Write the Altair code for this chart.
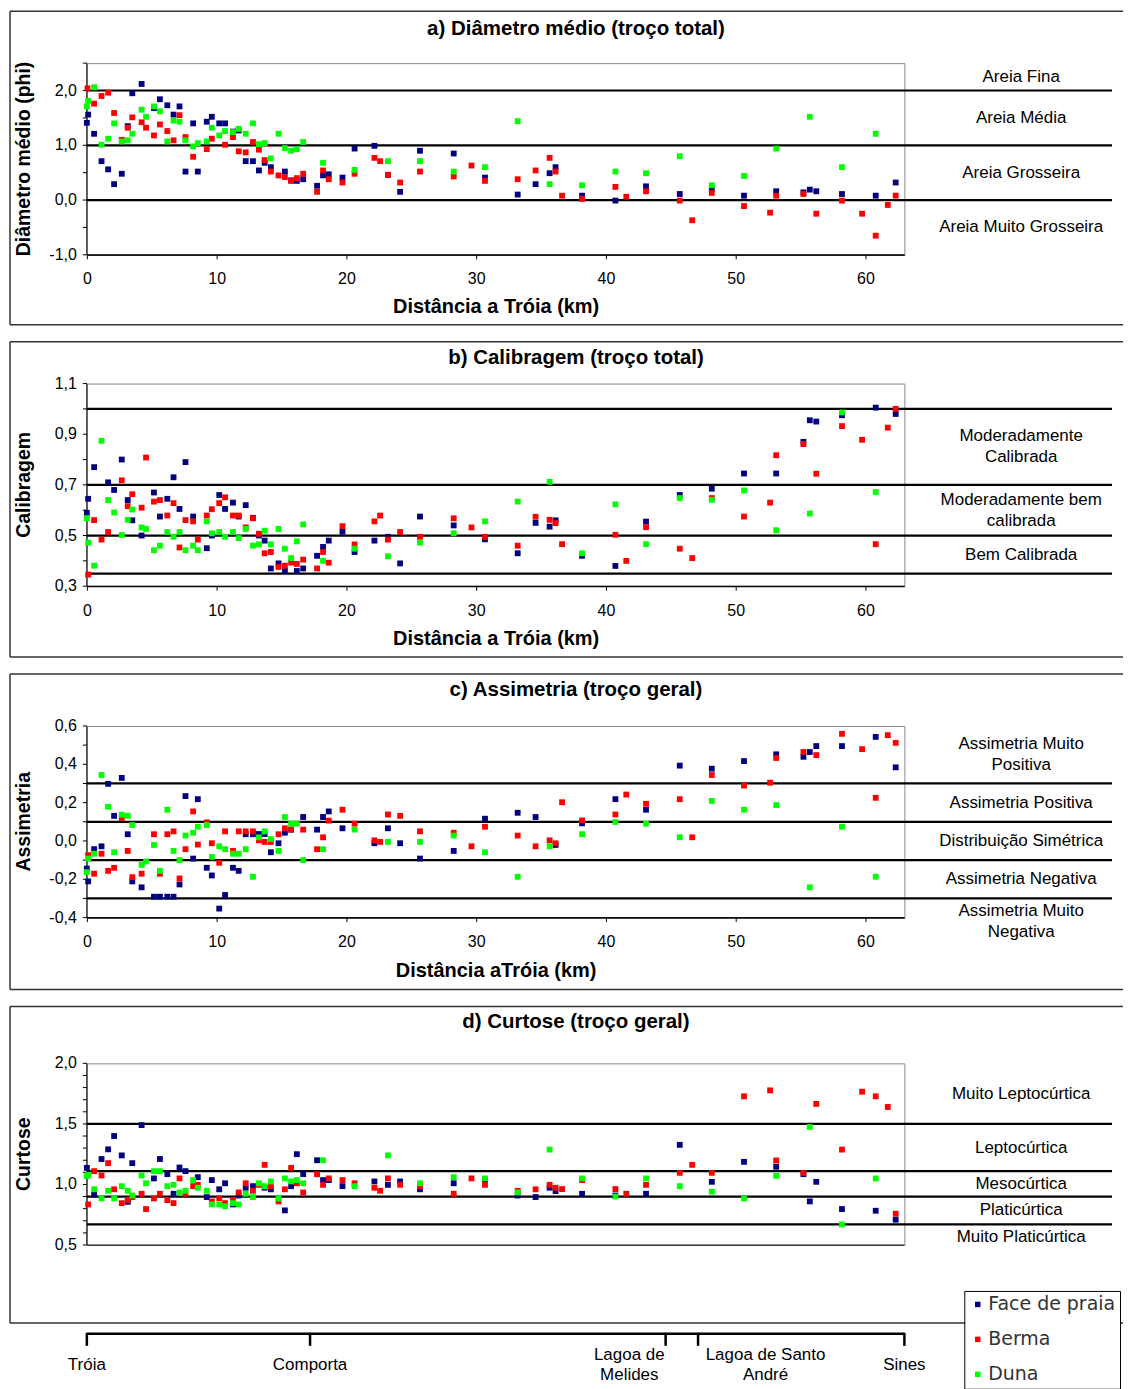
import altair as alt
import pandas as pd

SERIES = ["Face de praia", "Berma", "Duna"]
COLORS = ["#000080", "#ff0000", "#00ff00"]
FONT = "Liberation Sans"

duna_km = [0, 0.1, 0.56, 1.13, 1.64, 2.1, 2.69, 3.15, 3.5, 4.22, 4.56, 5.17, 5.63, 6.2, 6.68,
           7.14, 7.6, 8.19, 8.55, 9.24, 9.63, 10.2, 10.65, 11.26, 11.7, 12.24, 12.8, 13.26, 13.7,
           14.18, 14.77, 15.26, 15.74, 16.18, 16.67, 18.2, 20.63, 23.2, 25.67, 28.27, 30.68, 33.2,
           35.66, 38.16, 40.73, 43.09, 45.69, 48.16, 50.64, 53.12, 55.71, 58.19, 60.79]

a_face_km = [0, 0.1, 0.56, 1.13, 1.64, 2.1, 2.69, 3.15, 3.5, 4.22, 5.17, 5.63, 6.2, 6.68, 7.14,
             7.6, 8.19, 8.55, 9.24, 9.63, 10.2, 10.65, 11.26, 11.7, 12.24, 12.8, 13.26, 13.7, 14.18,
             15.26, 15.74, 16.18, 16.67, 17.74, 18.2, 18.64, 19.7, 20.63, 22.16, 23.2, 24.14, 25.67,
             28.27, 30.68, 33.2, 34.58, 35.66, 36.12, 38.16, 40.73, 43.09, 45.69, 48.16, 50.64,
             53.12, 55.22, 55.71, 56.21, 58.19, 60.79, 62.33]
a_face = [1.41, 1.56, 1.21, 0.71, 0.56, 0.29, 0.48, 1.35, 1.95, 2.12, 1.68, 1.84, 1.73, 1.56, 1.71,
          0.52, 1.40, 0.52, 1.43, 1.52, 1.40, 1.40, 1.25, 1.27, 0.71, 0.71, 0.54, 0.68, 0.60,
          0.52, 0.36, 0.35, 0.38, 0.26, 0.45, 0.47, 0.41, 0.94, 0.99, 0.46, 0.15, 0.90,
          0.85, 0.41, 0.10, 0.29, 0.49, 0.60, 0.08, -0.01, 0.25, 0.11, 0.21, 0.08,
          0.16, 0.14, 0.19, 0.16, 0.11, 0.08, 0.32]
a_berma_km = [0.05, 0.56, 1.13, 1.64, 2.1, 2.69, 3.15, 3.5, 4.22, 4.56, 5.17, 5.63, 6.2, 6.68, 7.14,
              7.6, 8.19, 9.24, 9.63, 10.65, 11.26, 11.7, 12.24, 12.8, 13.26, 13.7, 14.18, 14.77,
              15.26, 15.74, 16.18, 16.67, 17.74, 18.2, 18.64, 19.7, 20.63, 22.16, 22.6, 23.2, 24.14,
              25.67, 28.27, 29.64, 30.68, 33.2, 34.58, 35.66, 36.12, 36.62, 38.16, 40.73, 41.57,
              43.09, 45.69, 46.65, 48.16, 50.64, 52.65, 53.12, 55.22, 56.21, 58.19, 59.74, 60.79,
              61.72, 62.33]
a_berma = [2.04, 1.76, 1.90, 1.96, 1.59, 1.10, 1.32, 1.51, 1.42, 1.32, 1.18, 1.38, 1.26, 1.09, 1.55,
           1.15, 0.79, 0.93, 1.12, 1.01, 1.15, 0.89, 0.87, 1.06, 0.92, 0.73, 0.52, 0.45,
           0.42, 0.35, 0.40, 0.48, 0.15, 0.54, 0.38, 0.32, 0.48, 0.77, 0.71, 0.46, 0.32,
           0.52, 0.43, 0.63, 0.35, 0.38, 0.54, 0.77, 0.52, 0.08, 0.02, 0.24, 0.06,
           0.16, -0.01, -0.37, 0.13, -0.11, -0.23, 0.08, 0.11, -0.25, -0.01, -0.25, -0.65,
           -0.09, 0.08]
a_duna = [1.71, 1.81, 2.06, 1.01, 1.12, 1.40, 1.07, 1.09, 1.21, 1.65, 1.52, 1.71, 1.62, 1.07, 1.45,
          1.43, 1.09, 0.98, 1.04, 1.07, 1.32, 1.18, 1.26, 1.24, 1.30, 1.21, 1.40, 1.02, 1.04,
          0.76, 1.21, 0.95, 0.90, 0.93, 1.06, 0.68, 0.55, 0.71, 0.71, 0.52, 0.60, 1.44,
          0.29, 0.27, 0.52, 0.49, 0.80, 0.27, 0.44, 0.94, 1.52, 0.60, 1.21]

b_face_km = [0, 0.1, 0.56, 1.64, 2.1, 2.69, 3.15, 3.5, 4.22, 5.17, 5.63, 6.2, 6.68, 7.14, 7.6,
             8.19, 9.24, 9.63, 10.2, 10.65, 11.26, 11.7, 12.24, 12.8, 13.26, 13.7, 14.18, 14.77,
             15.26, 16.18, 16.67, 17.74, 18.2, 18.64, 19.7, 20.63, 22.16, 23.2, 24.14, 25.67,
             28.27, 30.68, 33.2, 34.58, 35.66, 36.12, 38.16, 40.73, 43.09, 45.69, 48.16, 50.64,
             53.12, 55.22, 55.71, 56.21, 58.19, 60.79, 62.33]
b_face = [0.59, 0.645, 0.77, 0.71, 0.68, 0.80, 0.64, 0.56, 0.50, 0.67, 0.575, 0.645, 0.73, 0.605, 0.79,
          0.575, 0.45, 0.50, 0.66, 0.605, 0.63, 0.575, 0.62, 0.57, 0.50, 0.48, 0.37, 0.39,
          0.36, 0.36, 0.37, 0.42, 0.455, 0.48, 0.515, 0.435, 0.48, 0.495, 0.39, 0.575,
          0.54, 0.485, 0.43, 0.55, 0.535, 0.56, 0.42, 0.38, 0.555, 0.66, 0.685, 0.745,
          0.745, 0.87, 0.955, 0.95, 0.975, 1.005, 0.98]
b_berma_km = [0.1, 0.56, 1.13, 1.64, 2.69, 3.15, 3.5, 4.22, 4.56, 5.17, 5.63, 6.2, 6.68, 7.14, 7.6,
              8.19, 8.55, 9.24, 9.63, 10.2, 10.65, 11.26, 11.7, 12.24, 12.8, 13.26, 13.7, 14.18,
              14.77, 15.26, 15.74, 16.18, 16.67, 17.74, 18.2, 18.64, 19.7, 20.63, 22.16, 22.6,
              23.2, 24.14, 25.67, 28.27, 29.64, 30.68, 33.2, 34.58, 35.66, 36.12, 36.62, 40.73,
              41.57, 43.09, 45.69, 46.65, 48.16, 50.64, 52.65, 53.12, 55.22, 56.21, 58.19, 59.74,
              60.79, 61.72, 62.33]
b_berma = [0.346, 0.561, 0.484, 0.514, 0.718, 0.616, 0.663, 0.610, 0.808, 0.634, 0.640, 0.579, 0.628,
           0.453, 0.561, 0.556, 0.484, 0.579, 0.604, 0.628, 0.651, 0.579, 0.579, 0.532, 0.568,
           0.507, 0.430, 0.435, 0.376, 0.381, 0.393, 0.388, 0.405, 0.370, 0.435, 0.393, 0.537,
           0.465, 0.556, 0.579, 0.484, 0.514, 0.495, 0.568, 0.532, 0.495, 0.460, 0.574, 0.562,
           0.549, 0.466, 0.503, 0.400, 0.533, 0.448, 0.411, 0.648, 0.575, 0.630, 0.817, 0.861,
           0.744, 0.932, 0.878, 0.466, 0.926, 1.0]
b_duna = [0.568, 0.472, 0.381, 0.874, 0.640, 0.591, 0.502, 0.562, 0.603, 0.532, 0.526, 0.442, 0.460,
          0.514, 0.495, 0.514, 0.442, 0.460, 0.442, 0.556, 0.509, 0.514, 0.495, 0.514, 0.490,
          0.526, 0.460, 0.465, 0.519, 0.465, 0.526, 0.448, 0.411, 0.477, 0.544, 0.400, 0.448,
          0.418, 0.472, 0.509, 0.556, 0.634, 0.712, 0.430, 0.623, 0.466, 0.648, 0.641, 0.678,
          0.521, 0.587, 0.986, 0.672]

c_face_km = [0, 0.1, 0.56, 1.13, 1.64, 2.1, 2.69, 3.15, 3.5, 4.22, 5.17, 5.63, 6.2, 6.68, 7.14,
             7.6, 8.19, 8.55, 9.24, 9.63, 10.2, 10.65, 11.26, 11.7, 12.24, 12.8, 13.26, 13.7,
             14.18, 14.77, 15.26, 15.74, 16.67, 17.74, 18.2, 18.64, 19.7, 22.16, 23.2, 24.14,
             25.67, 28.27, 30.68, 33.2, 34.58, 36.12, 38.16, 40.73, 43.09, 45.69, 48.16, 50.64,
             53.12, 55.22, 55.71, 56.21, 58.19, 60.79, 62.33]
c_face = [-0.144, -0.211, -0.043, -0.028, 0.298, 0.131, 0.329, 0.035, -0.211, -0.242, -0.291, -0.291,
          -0.291, -0.291, -0.227, 0.234, -0.092, 0.218, -0.140, -0.180, -0.353, -0.282, -0.140,
          -0.156, 0.035, 0.035, 0.036, 0.036, -0.059, -0.012, 0.043, 0.059, 0.125, 0.059, 0.125,
          0.154, 0.066, -0.012, 0.066, -0.012, -0.092, -0.052, 0.116, 0.147, 0.125, -0.021,
          0.092, 0.218, 0.163, 0.393, 0.377, 0.417, 0.452, 0.439, 0.464, 0.495, 0.495, 0.543,
          0.384]
c_berma_km = [0.1, 0.56, 1.13, 1.64, 2.1, 2.69, 3.15, 3.5, 4.22, 5.17, 5.63, 6.2, 6.68, 7.14, 7.6,
              8.19, 8.55, 9.24, 9.63, 10.2, 10.65, 11.26, 11.7, 12.24, 12.8, 13.26, 13.7, 14.18,
              14.77, 15.26, 15.74, 16.67, 17.74, 18.2, 18.64, 19.7, 20.63, 22.16, 22.6, 23.2,
              24.14, 25.67, 28.27, 29.64, 30.68, 33.2, 34.58, 35.66, 36.12, 36.62, 38.16, 40.73,
              41.57, 43.09, 45.69, 46.65, 48.16, 50.64, 52.65, 53.12, 55.22, 56.21, 58.19, 59.74,
              60.79, 61.72, 62.33]
c_berma = [-0.074, -0.171, -0.067, -0.156, -0.140, 0.12, -0.052, -0.189, -0.171, 0.035, -0.171, 0.035,
           0.050, -0.196, -0.043, 0.154, -0.019, 0.097, -0.012, -0.114, 0.050, -0.052, 0.050,
           0.050, 0.050, 0.003, -0.005, -0.005, 0.035, 0.066, 0.059, 0.059, -0.043, 0.019, 0.106,
           0.163, 0.090, 0.003, -0.005, 0.138, 0.131, 0.050, 0.043, -0.028, 0.074, 0.028, -0.028,
           0.003, -0.012, 0.202, 0.107, 0.138, 0.242, 0.194, 0.218, 0.019, 0.344, 0.289, 0.304,
           0.433, 0.464, 0.448, 0.559, 0.479, 0.225, 0.552, 0.512]
c_duna = [-0.163, -0.092, -0.067, 0.344, 0.178, -0.059, 0.137, 0.131, 0.083, -0.125, -0.107, -0.021,
          -0.156, 0.163, -0.052, -0.100, 0.028, 0.043, 0.074, 0.083, -0.083, -0.028, -0.043,
          -0.067, -0.067, -0.043, -0.187, 0.019, 0.050, 0.010, -0.052, 0.125, 0.090, 0.090,
          -0.100, -0.043, 0.059, -0.005, -0.005, 0.028, -0.059, -0.187, -0.028, 0.035, 0.099,
          0.090, 0.019, 0.209, 0.163, 0.187, -0.242, 0.074, -0.187]

d_face_km = [0, 0.56, 1.13, 1.64, 2.1, 2.69, 3.15, 3.5, 4.22, 5.17, 5.63, 6.2, 6.68, 7.14, 7.6,
             8.55, 9.24, 9.63, 10.2, 10.65, 11.26, 11.7, 12.24, 12.8, 13.7, 14.18, 15.26, 15.74,
             16.18, 16.67, 17.74, 18.2, 18.64, 19.7, 22.16, 23.2, 24.14, 25.67, 28.27, 30.68,
             33.2, 34.58, 35.66, 36.12, 38.16, 40.73, 43.09, 45.69, 48.16, 50.64, 53.12, 55.22,
             55.71, 56.21, 58.19, 60.79, 62.33]
d_face = [1.137, 0.918, 1.21, 1.29, 1.40, 1.24, 0.857, 1.176, 1.49, 1.05, 1.21, 1.085, 0.923, 1.14,
          1.11, 1.06, 0.896, 1.036, 0.96, 1.01, 0.835, 0.909, 0.973, 0.986, 0.973, 0.96, 0.786,
          0.986, 1.25, 1.085, 1.20, 1.036, 1.036, 0.986, 1.025, 0.997, 1.025, 0.96, 1.01, 1.036,
          0.909, 0.896, 0.973, 0.945, 0.923, 0.909, 0.923, 1.327, 1.022, 1.187, 1.146, 1.085,
          0.86, 1.022, 0.797, 0.783, 0.709]
d_berma_km = [0.1, 0.56, 1.13, 1.64, 2.1, 2.69, 3.15, 3.5, 4.22, 4.56, 5.17, 5.63, 6.2, 6.68, 7.14,
              7.6, 8.19, 8.55, 9.63, 10.2, 10.65, 11.26, 11.7, 12.24, 12.8, 13.26, 13.7, 14.18,
              14.77, 15.26, 15.74, 16.18, 16.67, 17.74, 18.2, 18.64, 19.7, 20.63, 22.16, 22.6,
              23.2, 24.14, 25.67, 28.27, 29.64, 30.68, 33.2, 34.58, 35.66, 36.12, 36.62, 38.16,
              40.73, 41.57, 43.09, 45.69, 46.65, 48.16, 50.64, 52.65, 53.12, 55.22, 56.21, 58.19,
              59.74, 60.79, 61.72, 62.33]
d_berma = [0.835, 1.11, 1.074, 1.176, 0.96, 0.846, 0.871, 0.896, 0.923, 0.797, 0.885, 0.923, 0.871,
           0.846, 1.05, 0.923, 0.986, 0.997, 0.86, 0.885, 0.846, 0.871, 0.934, 1.01, 0.948, 0.997,
           1.162, 0.986, 0.86, 0.96, 1.137, 1.01, 0.934, 1.085, 0.997, 1.05, 1.036, 1.01, 0.973,
           0.948, 1.05, 0.997, 0.986, 0.923, 1.05, 0.997, 0.948, 0.96, 0.997, 0.973, 0.962, 1.036,
           0.962, 0.923, 0.997, 1.096, 1.162, 1.096, 1.728, 1.777, 1.198, 1.096, 1.665, 1.288,
           1.766, 1.728, 1.64, 0.758]
d_duna = [1.069, 1.08, 0.96, 0.885, 0.948, 0.885, 0.986, 0.948, 0.909, 1.074, 1.01, 1.11, 1.11,
          0.986, 0.997, 0.934, 0.948, 1.036, 0.973, 0.948, 0.835, 0.835, 0.82, 0.846, 0.835,
          0.923, 0.896, 1.01, 0.986, 1.025, 0.885, 1.05, 1.025, 1.036, 1.01, 1.20, 0.986, 1.24,
          1.01, 1.06, 1.05, 0.934, 1.288, 1.05, 0.90, 1.05, 0.986, 0.94, 0.885, 1.071, 1.475,
          0.67, 1.05]

# class limits, class names and where each name sits
a_limits = [2.0, 1.0, 0.0]
a_classes = ["Areia Fina", "Areia Média", "Areia Grosseira", "Areia Muito Grosseira"]
a_class_at = [2.25, 1.5, 0.5, -0.5]
b_limits = [1.0, 0.7, 0.5, 0.35]
b_classes = ["Moderadamente\nCalibrada", "Moderadamente bem\ncalibrada", "Bem Calibrada"]
b_class_at = [0.85, 0.6, 0.425]
c_limits = [0.3, 0.1, -0.1, -0.3]
c_classes = ["Assimetria Muito\nPositiva", "Assimetria Positiva", "Distribuição Simétrica",
             "Assimetria Negativa", "Assimetria Muito\nNegativa"]
c_class_at = [0.45, 0.2, 0.0, -0.2, -0.42]
d_limits = [1.5, 1.11, 0.9, 0.67]
d_classes = ["Muito Leptocúrtica", "Leptocúrtica", "Mesocúrtica", "Platicúrtica", "Muito Platicúrtica"]
d_class_at = [1.75, 1.305, 1.005, 0.785, 0.57]

# y ticks and labelled y ticks
a_yticks = [-1.0, -0.5, 0.0, 0.5, 1.0, 1.5, 2.0, 2.5]
a_ylabels = [-1.0, 0.0, 1.0, 2.0]
b_yticks = [0.3, 0.4, 0.5, 0.6, 0.7, 0.8, 0.9, 1.0, 1.1]
b_ylabels = [0.3, 0.5, 0.7, 0.9, 1.1]
c_yticks = [-0.4, -0.3, -0.2, -0.1, 0.0, 0.1, 0.2, 0.3, 0.4, 0.5, 0.6]
c_ylabels = [-0.4, -0.2, 0.0, 0.2, 0.4, 0.6]
d_yticks = [0.5, 0.6, 0.7, 0.8, 0.9, 1.0, 1.1, 1.2, 1.3, 1.4, 1.5, 1.6, 1.7, 1.8, 1.9, 2.0]
d_ylabels = [0.5, 1.0, 1.5, 2.0]
x_ticks = [0, 10, 20, 30, 40, 50, 60]

# locations along the coast
loc_tick_km = [0, 17.2, 44.6, 47.1, 63]
loc_names = ["Tróia", "Comporta", "Lagoa de\nMelides", "Lagoa de Santo\nAndré", "Sines"]
loc_label_km = [0, 17.2, 41.8, 52.3, 63]

XSC = alt.Scale(domain=[0, 63], nice=False, zero=False)
CSC = alt.Scale(domain=SERIES, range=COLORS)
LINE_H = 21
FRAME_R = 1038

LEGEND = alt.Legend(orient="none", legendX=879, legendY=228, title=None, symbolType="square",
                    symbolSize=30, symbolStrokeWidth=0, labelFont="DejaVu Sans", labelFontSize=19,
                    labelColor="#333333", rowPadding=15, padding=4, labelOffset=1,
                    strokeColor="black", fillColor="white")


def comma(v):
    return f"{v:.1f}".replace(".", ",")


def text_layers(at_list, labels, scale_enc, x_enc, size):
    """Single-line names centred on their value; two-line names centred as a block."""
    out = []
    for multi in (False, True):
        sel = [(a, t) for a, t in zip(at_list, labels) if ("\n" in t) == multi]
        if not sel:
            continue
        dfx = pd.DataFrame({"at": [s[0] for s in sel], "label": [s[1] for s in sel]})
        out.append(alt.Chart(dfx).mark_text(
            font=FONT, fontSize=size, align="center", baseline="middle", lineBreak="\n",
            lineHeight=LINE_H, dy=(-LINE_H / 2 if multi else 0), color="black").encode(
            y=scale_enc, x=x_enc, text="label:N"))
    return out


def panel(face_km, face, berma_km, berma, duna, title, ytitle, xtitle, ydom, yticks, ylabels,
          height, limits, classes, class_at, frame_top, frame_bottom, title_y, xtitle_y,
          legend=False, extra=()):
    rows = ([(k, v, SERIES[0]) for k, v in zip(face_km, face)]
            + [(k, v, SERIES[1]) for k, v in zip(berma_km, berma)]
            + [(k, v, SERIES[2]) for k, v in zip(duna_km, duna)])
    df = pd.DataFrame(rows, columns=["km", "val", "serie"])
    ysc = alt.Scale(domain=ydom, nice=False, zero=False)
    xaxis = alt.Axis(values=x_ticks, title=xtitle, labelFlush=False, tickSize=4, labelPadding=12,
                     labelFontSize=16, titleFontSize=20, titleFontWeight="bold", titleY=xtitle_y,
                     titleBaseline="middle", grid=False, labelOverlap=False)
    color = alt.Color("serie:N", scale=CSC, legend=LEGEND if legend else None)
    pts = alt.Chart(df).mark_square(size=34, opacity=1, filled=True).encode(
        x=alt.X("km:Q", scale=XSC, axis=xaxis),
        y=alt.Y("val:Q", scale=ysc, axis=None),
        color=color,
    )
    lines = alt.Chart(pd.DataFrame({"lim": limits})).mark_rule(color="black", strokeWidth=2.2).encode(
        y=alt.Y("lim:Q", scale=ysc, axis=None), x=alt.value(0), x2=alt.value(1027))
    texts = text_layers(class_at, classes, alt.Y("at:Q", scale=ysc, axis=None), alt.value(936), 17)
    # y axis drawn from the panel's own y scale
    ytick = alt.Chart(pd.DataFrame({"t": yticks})).mark_rule(color="black", strokeWidth=1).encode(
        y=alt.Y("t:Q", scale=ysc, axis=None), x=alt.value(-4), x2=alt.value(0))
    ylab = alt.Chart(pd.DataFrame({"t": ylabels, "s": [comma(v) for v in ylabels]})).mark_text(
        font=FONT, fontSize=16, align="right", baseline="middle", color="black").encode(
        y=alt.Y("t:Q", scale=ysc, axis=None), x=alt.value(-10), text="s:N")
    one = alt.Chart(pd.DataFrame({"k": [0]}))
    ydomain = one.mark_rule(color="black", strokeWidth=1).encode(
        x=alt.value(0), y=alt.value(0), y2=alt.value(height))
    xdomain = one.mark_rule(color="black", strokeWidth=1).encode(
        x=alt.value(0), x2=alt.value(819), y=alt.value(height))
    ytitle_m = alt.Chart(pd.DataFrame({"t": [ytitle]})).mark_text(
        font=FONT, fontSize=19.5, fontWeight="bold", angle=270, align="center", baseline="middle",
        color="black").encode(text="t:N", x=alt.value(-63), y=alt.value(height / 2))
    fstyle = dict(color="#333333", strokeWidth=1.5)
    ftop = one.mark_rule(**fstyle).encode(x=alt.value(-77), x2=alt.value(FRAME_R), y=alt.value(frame_top))
    fbot = one.mark_rule(**fstyle).encode(x=alt.value(-77), x2=alt.value(FRAME_R), y=alt.value(frame_bottom))
    fleft = one.mark_rule(**fstyle).encode(x=alt.value(-77), y=alt.value(frame_top), y2=alt.value(frame_bottom))
    ttl = alt.Chart(pd.DataFrame({"t": [title]})).mark_text(
        font=FONT, fontSize=20.5, fontWeight="bold", align="center", baseline="middle",
        color="black").encode(text="t:N", x=alt.value(490), y=alt.value(title_y))
    return alt.layer(ftop, fbot, fleft, lines, *texts, ttl, ydomain, xdomain, ytick, ylab,
                     ytitle_m, pts, *extra).properties(width=819, height=height)


pa = panel(a_face_km, a_face, a_berma_km, a_berma, a_duna,
           "a) Diâmetro médio (troço total)", "Diâmetro médio (phi)", "Distância a Tróia (km)",
           [-1.0, 2.5], a_yticks, a_ylabels,
           192, a_limits, a_classes, a_class_at, -52, 262, -34, 52)

pb = panel(b_face_km, b_face, b_berma_km, b_berma, b_duna,
           "b) Calibragem (troço total)", "Calibragem", "Distância a Tróia (km)",
           [0.3, 1.1], b_yticks, b_ylabels,
           203, b_limits, b_classes, b_class_at, -42, 274, -26, 52)

pc = panel(c_face_km, c_face, c_berma_km, c_berma, c_duna,
           "c) Assimetria (troço geral)", "Assimetria", "Distância aTróia (km)",
           [-0.4, 0.6], c_yticks, c_ylabels,
           192, c_limits, c_classes, c_class_at, -52, 264, -36, 53)

loc_bar = alt.Chart(pd.DataFrame({"a": [min(loc_tick_km)], "b": [max(loc_tick_km)]})).mark_rule(
    color="black", strokeWidth=2.5).encode(
    x=alt.X("a:Q", scale=XSC, axis=None), x2="b:Q", y=alt.value(271))
loc_ticks = alt.Chart(pd.DataFrame({"km": loc_tick_km})).mark_rule(
    color="black", strokeWidth=2.5).encode(
    x=alt.X("km:Q", scale=XSC, axis=None), y=alt.value(270), y2=alt.value(283))
loc_text = []
for multi in (False, True):
    sel = [(k, n) for k, n in zip(loc_label_km, loc_names) if ("\n" in n) == multi]
    loc_text.append(alt.Chart(pd.DataFrame({"km": [s[0] for s in sel], "name": [s[1] for s in sel]}))
                    .mark_text(font=FONT, fontSize=17, align="center", baseline="middle",
                               lineBreak="\n", lineHeight=20, dy=(-10 if multi else 0),
                               color="black")
                    .encode(x=alt.X("km:Q", scale=XSC, axis=None), y=alt.value(302), text="name:N"))

pd_ = panel(d_face_km, d_face, d_berma_km, d_berma, d_duna,
            "d) Curtose (troço geral)", "Curtose", "Distância a Tróia (km)",
            [0.5, 2.0], d_yticks, d_ylabels,
            182, d_limits, d_classes, d_class_at, -57, 260, -41, 59,
            legend=True, extra=(loc_bar, loc_ticks, *loc_text))

chart = alt.vconcat(pa, pb, pc, pd_, spacing=13).resolve_scale(color="independent").properties(
    padding=0).configure_view(stroke="#888888", strokeWidth=1).configure_axis(
    domainColor="black", tickColor="black", labelColor="black", titleColor="black",
    labelFont=FONT, titleFont=FONT, domainWidth=1, tickWidth=1)

chart.save("out.html", embed_options={"renderer": "svg", "actions": False})
